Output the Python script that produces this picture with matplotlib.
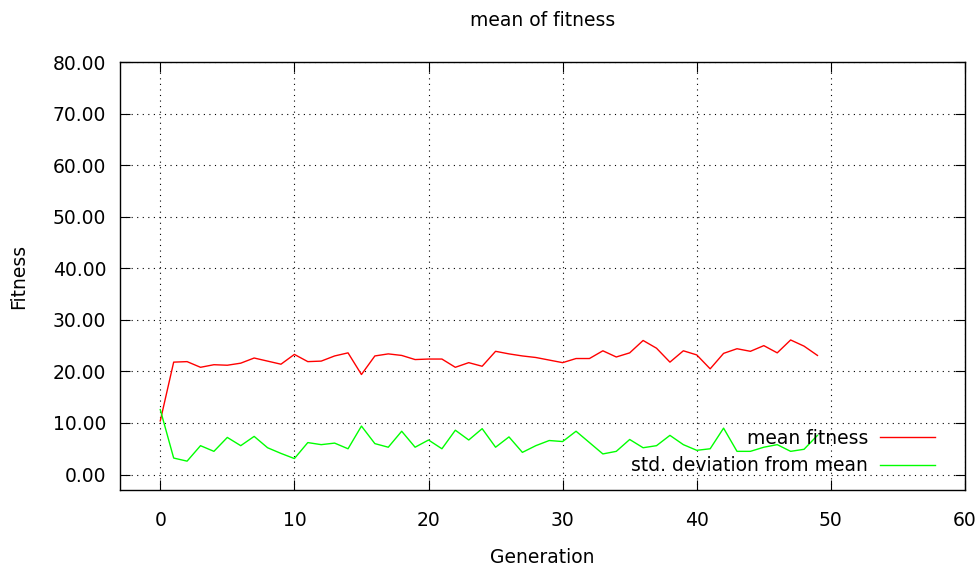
import matplotlib
matplotlib.use("Agg")
import matplotlib.pyplot as plt

# data
generation = list(range(50))
mean_fitness = [10.4, 21.8, 21.9, 20.8, 21.3, 21.2, 21.6, 22.6, 22.0, 21.4,
                23.3, 21.9, 22.0, 23.0, 23.6, 19.4, 23.0, 23.4, 23.1, 22.3,
                22.4, 22.4, 20.8, 21.7, 21.0, 23.9, 23.4, 23.0, 22.7, 22.2,
                21.7, 22.5, 22.5, 24.0, 22.8, 23.6, 26.0, 24.5, 21.8, 24.0,
                23.2, 20.5, 23.5, 24.4, 23.9, 25.0, 23.6, 26.1, 24.9, 23.1]
std_dev = [12.6, 3.2, 2.6, 5.6, 4.5, 7.2, 5.6, 7.4, 5.2, 4.1,
           3.1, 6.2, 5.8, 6.1, 5.0, 9.4, 6.0, 5.3, 8.4, 5.3,
           6.7, 5.0, 8.6, 6.7, 8.9, 5.3, 7.3, 4.3, 5.6, 6.6,
           6.4, 8.4, 6.2, 4.0, 4.5, 6.8, 5.2, 5.6, 7.6, 5.8,
           4.7, 5.0, 9.0, 4.5, 4.5, 5.3, 5.8, 4.5, 4.9, 7.6]
x_ticks = [0, 10, 20, 30, 40, 50, 60]
y_ticks = [0, 10, 20, 30, 40, 50, 60, 70, 80]

plt.rcParams['font.family'] = ['DejaVu Sans']
plt.rcParams['font.size'] = 13.5

fig = plt.figure(figsize=(9.79, 5.69), dpi=100)
ax = fig.add_axes([0.1226, 0.1388, 0.8631, 0.7522])

ax.plot(generation, mean_fitness, color='#ff0000', lw=1.0, label='mean fitness')
ax.plot(generation, std_dev, color='#00ff00', lw=1.0, label='std. deviation from mean')

ax.set_xlim(-3, 60)
ax.set_ylim(-3, 80)
ax.set_xticks(x_ticks)
ax.set_yticks(y_ticks)
ax.set_yticklabels([f"{v:.2f}" for v in y_ticks])

ax.tick_params(direction='in', length=7, width=0.8, top=True, right=True,
               colors='black')
ax.tick_params(axis='x', pad=15)
ax.tick_params(axis='y', pad=10)
ax.grid(True, color='black', linestyle=(0, (1, 4)), linewidth=0.8)
for s in ax.spines.values():
    s.set_linewidth(1.0)

ax.set_title("mean of fitness", fontsize=13.5, pad=26)
ax.set_xlabel("Generation", labelpad=13)
ax.set_ylabel("Fitness", labelpad=18)

leg = ax.legend(loc='lower right', bbox_to_anchor=(0.985, -0.005), frameon=False,
                markerfirst=False, handlelength=2.95, handletextpad=0.64,
                labelspacing=0.44, fontsize=13.5)

fig.savefig("out.png", dpi=100)
